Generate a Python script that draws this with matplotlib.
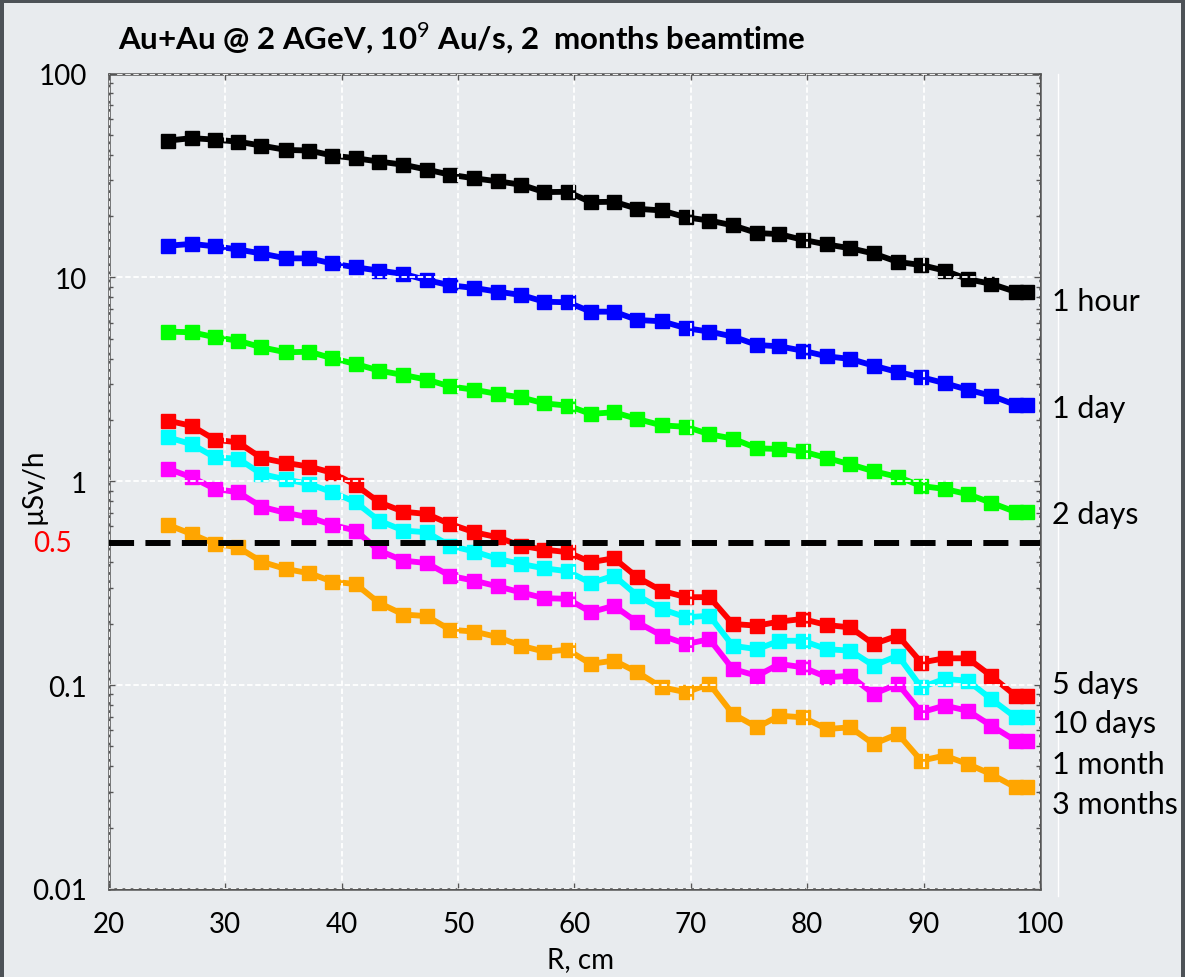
import numpy as np
import matplotlib
matplotlib.use("Agg")
import matplotlib.pyplot as plt
from matplotlib.ticker import LogLocator, NullFormatter
from matplotlib.transforms import blended_transform_factory
from matplotlib.lines import Line2D
from matplotlib.patches import Rectangle

plt.rcParams['font.family'] = ['Lato', 'DejaVu Sans']
plt.rcParams['mathtext.fontset'] = 'custom'
plt.rcParams['mathtext.rm'] = 'Lato'

# radius of the scoring bins, cm
R = [25.1, 27.1, 29.1, 31.1, 33.1, 35.2, 37.2, 39.2, 41.2, 43.2, 45.3, 47.3, 49.3,
     51.4, 53.4, 55.4, 57.4, 59.4, 61.4, 63.4, 65.4, 67.5, 69.6, 71.6, 73.6,
     75.7, 77.6, 79.6, 81.7, 83.7, 85.7, 87.8, 89.8, 91.8, 93.8, 95.8, 97.9, 98.9]

# dose rate, uSv/h, after the given cooling time
dose_1hour = [46.9, 48.2, 47.4, 46.3, 44.3, 42.2, 41.9, 39.6, 38.4, 37.0, 35.7, 33.8, 31.9,
              30.6, 29.6, 28.5, 26.2, 26.3, 23.4, 23.5, 21.7, 21.3, 19.7, 19.0, 18.0,
              16.5, 16.3, 15.3, 14.5, 13.9, 13.1, 11.9, 11.5, 10.8, 9.8, 9.3, 8.5, 8.5]
dose_1day = [14.3, 14.6, 14.2, 13.7, 13.1, 12.4, 12.4, 11.7, 11.2, 10.8, 10.4, 9.7, 9.15,
             8.87, 8.51, 8.20, 7.60, 7.55, 6.79, 6.79, 6.18, 6.09, 5.63, 5.42, 5.13,
             4.66, 4.59, 4.37, 4.10, 3.98, 3.69, 3.43, 3.24, 3.03, 2.81, 2.63, 2.37, 2.37]
dose_2days = [5.42, 5.38, 5.09, 4.89, 4.54, 4.29, 4.32, 4.01, 3.76, 3.49, 3.32, 3.15, 2.92,
              2.81, 2.68, 2.58, 2.41, 2.35, 2.14, 2.18, 2.02, 1.88, 1.85, 1.70, 1.62,
              1.45, 1.44, 1.40, 1.30, 1.21, 1.12, 1.05, 0.948, 0.917, 0.864, 0.785, 0.707, 0.707]
dose_5days = [1.98, 1.87, 1.60, 1.55, 1.30, 1.23, 1.18, 1.10, 0.959, 0.789, 0.709, 0.691, 0.617,
              0.562, 0.531, 0.483, 0.462, 0.449, 0.401, 0.419, 0.338, 0.290, 0.270, 0.270, 0.1995,
              0.1957, 0.205, 0.211, 0.197, 0.192, 0.159, 0.175, 0.129, 0.1354, 0.1354, 0.111, 0.0888, 0.0888]
dose_10days = [1.64, 1.52, 1.31, 1.29, 1.086, 1.02, 0.970, 0.883, 0.789, 0.641, 0.573, 0.562, 0.483,
               0.452, 0.416, 0.393, 0.374, 0.362, 0.317, 0.344, 0.275, 0.236, 0.215, 0.219, 0.156,
               0.150, 0.165, 0.165, 0.150, 0.1476, 0.1246, 0.1395, 0.0976, 0.1072, 0.1051, 0.0855, 0.0695, 0.0695]
dose_1month = [1.149, 1.046, 0.917, 0.883, 0.750, 0.699, 0.666, 0.610, 0.573, 0.457, 0.408, 0.397, 0.344,
               0.325, 0.305, 0.285, 0.267, 0.265, 0.228, 0.245, 0.203, 0.175, 0.159, 0.168, 0.120,
               0.111, 0.127, 0.1224, 0.1093, 0.111, 0.0905, 0.1013, 0.0736, 0.0793, 0.0749, 0.0633, 0.0534, 0.0534]
dose_3months = [0.610, 0.551, 0.493, 0.474, 0.403, 0.371, 0.354, 0.322, 0.313, 0.253, 0.222, 0.218, 0.187,
                0.183, 0.172, 0.156, 0.146, 0.149, 0.127, 0.132, 0.1156, 0.0976, 0.0922, 0.1013, 0.0722,
                0.0621, 0.0708, 0.0695, 0.0609, 0.0621, 0.0514, 0.0576, 0.0426, 0.0451, 0.0410, 0.0366, 0.0315, 0.0315]

series = [dose_1hour, dose_1day, dose_2days, dose_5days, dose_10days, dose_1month, dose_3months]
names = ["1 hour", "1 day", "2 days", "5 days", "10 days", "1 month", "3 months"]
colors = ["#000000", "#0000ff", "#00ff00", "#ff0000", "#00ffff", "#ff00ff", "#ffa500"]
# where the cooling-time names sit on the right edge (dose units)
name_y = [7.68, 2.29, 0.691, 0.1013, 0.0653, 0.041, 0.0261]

limit = 0.5

bg = "#e8ebee"
frame = "#4d5257"
fig = plt.figure(figsize=(11.85, 9.78), dpi=100)
fig.patch.set_facecolor(bg)

ax = fig.add_axes([0.092, 0.090, 0.7856, 0.8338])
ax.set_facecolor(bg)

for vals, c in zip(series, colors):
    ax.plot(R, vals, color=c, lw=4.2, marker="s", ms=10.5, mec=c, mfc=c, zorder=2)

ax.axhline(limit, color="black", lw=4.3, dashes=(4.2, 1.9), zorder=3)

ax.set_yscale("log")
ax.set_xlim(20, 100)
ax.set_ylim(0.01, 100)

ax.set_xticks(np.arange(20, 101, 10))
ax.set_yticks([0.01, 0.1, 1, 10, 100])
ax.set_yticklabels(["0.01", "0.1", "1", "10", "100"])
ax.yaxis.set_minor_locator(LogLocator(base=10, subs=np.arange(2, 10)))
ax.yaxis.set_minor_formatter(NullFormatter())

ax.tick_params(axis="both", which="major", direction="in", length=4, width=1,
               color="#555555", labelsize=20, top=True, right=True)
ax.tick_params(axis="y", which="minor", direction="in", length=3, width=1,
               color="#555555", right=True, left=True)
ax.tick_params(axis="y", which="major", pad=16)
ax.tick_params(axis="x", which="major", pad=16)

for s in ax.spines.values():
    s.set_color("#555555")
    s.set_linewidth(1.8)

ax.set_axisbelow(False)
ax.grid(True, which="major", color="white", lw=1.3, linestyle=(0, (3, 1.5)))

# cooling-time names beside the right edge
tr = blended_transform_factory(ax.transAxes, ax.transData)
for name, y in zip(names, name_y):
    ax.text(1.013, y, name, transform=tr, fontsize=22, ha="left", va="center")

ax.text(-0.061, limit, "0.5", transform=tr, fontsize=20, color="red",
        ha="center", va="center")

fig.text(0.0996, 0.961, r"Au+Au @ 2 AGeV, 10$^{9}$ Au/s, 2  months beamtime",
         fontsize=22.5, fontweight="bold", ha="left", va="center")
fig.text(0.028, 0.503, "\u00b5Sv/h", rotation=90, fontsize=20, ha="center", va="center")
fig.text(0.4895, 0.018, "R, cm", fontsize=20, ha="center", va="center")

# thin light rule right of the frame
fig.add_artist(Line2D([1058 / 1185, 1058 / 1185], [1 - 897 / 978, 1 - 75 / 978],
                      transform=fig.transFigure, color="white", lw=1, zorder=-1))

# dark window border on the left, top and right
for x0, y0, w, h in [(0, 0, 4 / 1185, 1), (0, 1 - 4 / 978, 1, 4 / 978), (1 - 4 / 1185, 0, 4 / 1185, 1)]:
    fig.add_artist(Rectangle((x0, y0), w, h, transform=fig.transFigure,
                             facecolor=frame, edgecolor="none", zorder=5))

fig.savefig("out.png", dpi=100, facecolor=fig.get_facecolor())
